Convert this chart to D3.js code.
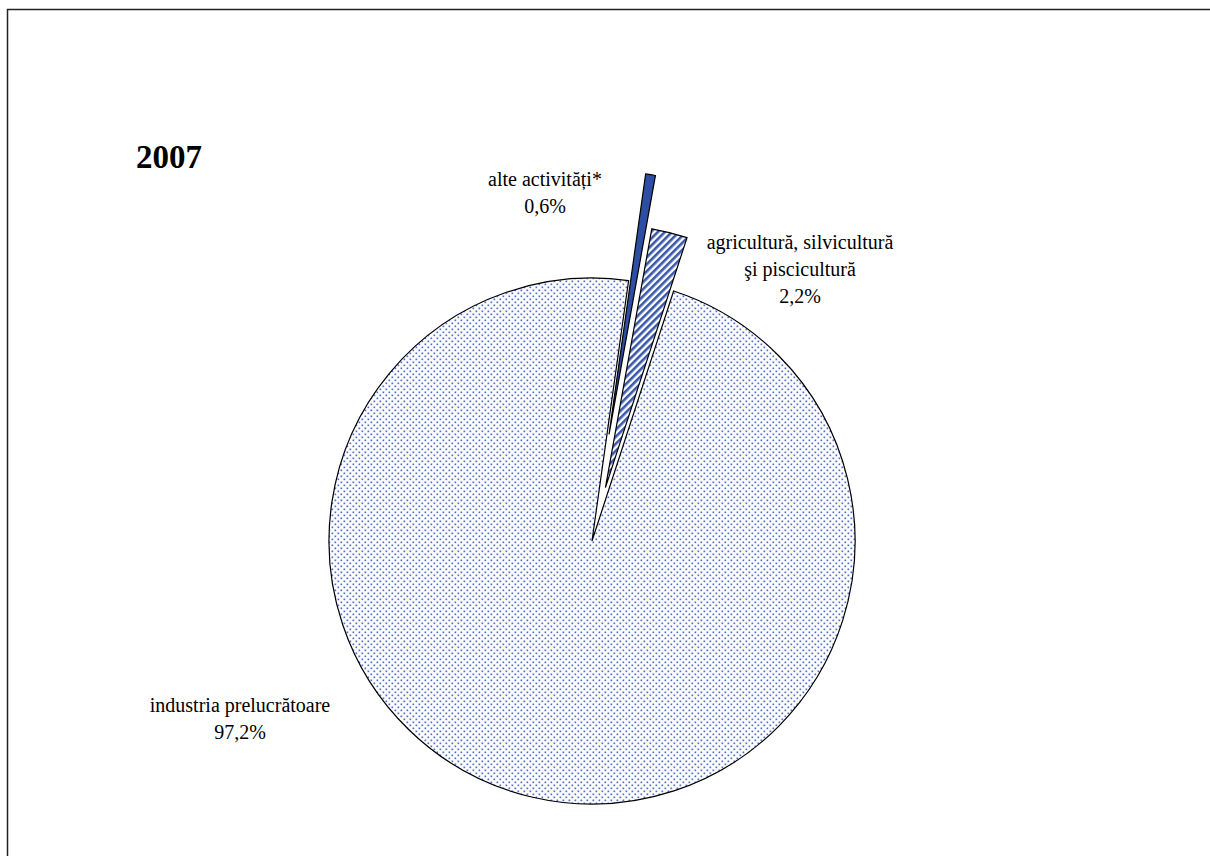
<!DOCTYPE html>
<html>
<head>
<meta charset="utf-8">
<script src="https://cdn.jsdelivr.net/npm/d3@7"></script>
<style>
  body { margin: 0; background: #fff; }
  text { font-family: "Liberation Serif", "Times New Roman", serif; fill: #000; }
</style>
</head>
<body>
<div id="chart_id"></div>
<script>
// data
var categories = ["alte activități*", "agricultură, silvicultură şi piscicultură", "industria prelucrătoare"];
var values = [0.6, 2.2, 97.2];
var valueLabels = ["0,6%", "2,2%", "97,2%"];
var title = "2007";

var width = 1210, height = 856;
var svg = d3.select("#chart_id").append("svg").attr("width", width).attr("height", height);

// frame
svg.append("rect").attr("x", 7.5).attr("y", 9.5).attr("width", 1220).attr("height", 900)
    .style("fill", "none").style("stroke", "#222").style("stroke-width", 1.5);

// patterns
var defs = svg.append("defs");
var dots = defs.append("pattern").attr("id", "dots").attr("patternUnits", "userSpaceOnUse")
    .attr("width", 6).attr("height", 6);
dots.append("rect").attr("width", 6).attr("height", 6).style("fill", "#fff");
dots.append("rect").attr("x", 0.5).attr("y", 0.5).attr("width", 1.7).attr("height", 1.7).style("fill", "#4f6ec4");
dots.append("rect").attr("x", 3.5).attr("y", 3.5).attr("width", 1.7).attr("height", 1.7).style("fill", "#4f6ec4");

// diagonal stripes for agriculture slice
var stripes = defs.append("pattern").attr("id", "stripes").attr("patternUnits", "userSpaceOnUse")
    .attr("width", 5).attr("height", 5).attr("patternTransform", "rotate(-45)");
stripes.append("rect").attr("width", 5).attr("height", 5).style("fill", "#fff");
stripes.append("rect").attr("width", 5).attr("height", 2.6).style("fill", "#3a58a8");

var fills = ["#2d4ea3", "url(#stripes)", "url(#dots)"];
var explode = [108, 55, 0];

var cx = 592, cy = 541, radius = 263;
var deg = Math.PI / 180;

var pie = d3.pie().sort(null).value(function(d) { return d; })
    .startAngle(8 * deg).endAngle(368 * deg);
var arc = d3.arc().innerRadius(0).outerRadius(radius);

var g = svg.append("g").attr("transform", "translate(" + cx + "," + cy + ")");
g.selectAll("path")
    .data(pie(values))
    .enter()
    .append("path")
    .attr("d", arc)
    .attr("transform", function(d, i) {
        var a = (d.startAngle + d.endAngle) / 2;
        return "translate(" + (explode[i] * Math.sin(a)) + "," + (-explode[i] * Math.cos(a)) + ")";
    })
    .style("fill", function(d, i) { return fills[i]; })
    .style("stroke", "#000")
    .style("stroke-width", "1.2px");

// title
svg.append("text").attr("x", 136).attr("y", 168).text(title)
    .style("font-size", "33px").style("font-weight", "bold");

// labels
var labelLines = [
    [categories[0], valueLabels[0]],
    ["agricultură, silvicultură", "şi piscicultură", valueLabels[1]],
    [categories[2], valueLabels[2]]
];
var labelPos = [[545, 186], [800, 249], [240, 712]];
var lineH = 27;

labelLines.forEach(function(lines, i) {
    var t = svg.append("text").attr("text-anchor", "middle").style("font-size", "20px");
    lines.forEach(function(s, j) {
        t.append("tspan").attr("x", labelPos[i][0]).attr("y", labelPos[i][1] + j * lineH).text(s);
    });
});
</script>
</body>
</html>
